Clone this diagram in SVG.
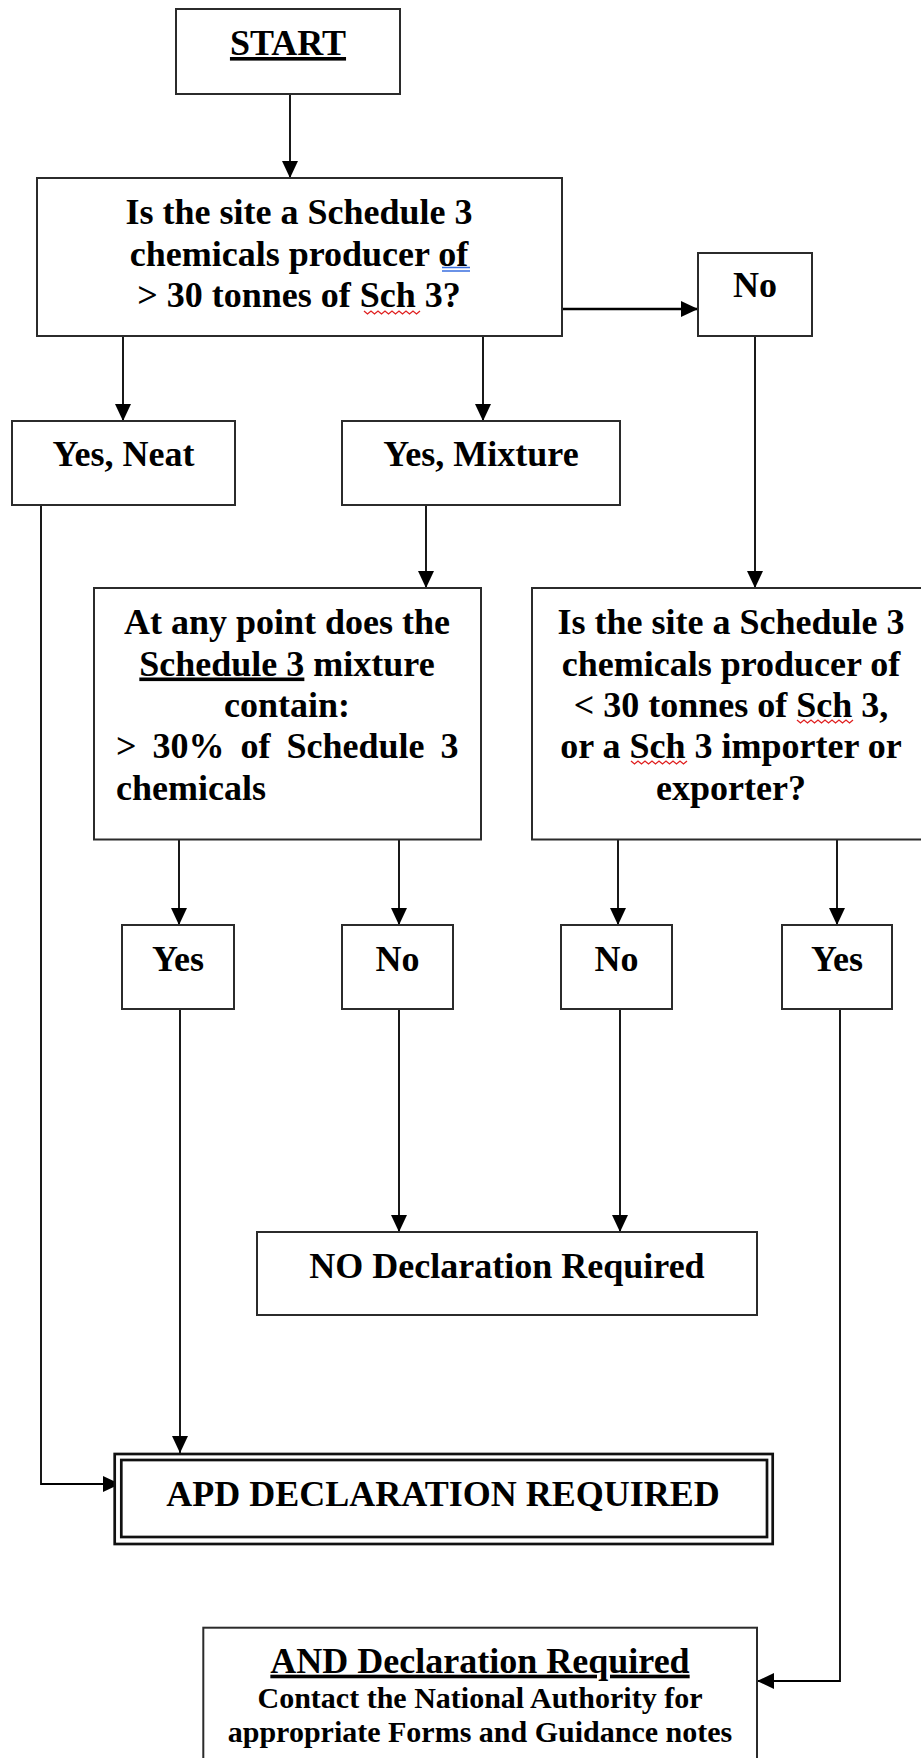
<svg xmlns="http://www.w3.org/2000/svg" width="921" height="1758" viewBox="0 0 921 1758">
<defs>
<marker id="arr" markerUnits="userSpaceOnUse" markerWidth="17" markerHeight="16" refX="17" refY="8" orient="auto">
<path d="M0,0 L17,8 L0,16 z" fill="#000"/>
</marker>
<style>
rect.box{fill:#fff;stroke:#2b2b2b;stroke-width:2}
text{font-family:"Liberation Serif","Times New Roman",serif;font-weight:bold;font-size:36px;fill:#000}
text.c{text-anchor:middle}
text.s{font-size:30px}
.conn line,.conn polyline{fill:none;stroke:#000;stroke-width:1.8}
.spell{fill:none;stroke:#e02020;stroke-width:1.3}
.gram{fill:none;stroke:#3a6fe0;stroke-width:1.3}
</style>
</defs>
<rect width="921" height="1758" fill="#fff"/>

<g class="conn" id="connectors">
<line x1="290" y1="95" x2="290" y2="178" marker-end="url(#arr)"/>
<line x1="562" y1="309" x2="698" y2="309" marker-end="url(#arr)" style="stroke-width:2.4"/>
<line x1="755" y1="336" x2="755" y2="588" marker-end="url(#arr)"/>
<line x1="123" y1="336" x2="123" y2="421" marker-end="url(#arr)"/>
<line x1="483" y1="336" x2="483" y2="421" marker-end="url(#arr)"/>
<line x1="426" y1="505" x2="426" y2="588" marker-end="url(#arr)"/>
<polyline points="41,505 41,1484 120,1484" marker-end="url(#arr)"/>
<line x1="179" y1="840" x2="179" y2="925" marker-end="url(#arr)"/>
<line x1="399" y1="840" x2="399" y2="925" marker-end="url(#arr)"/>
<line x1="618" y1="840" x2="618" y2="925" marker-end="url(#arr)"/>
<line x1="837" y1="840" x2="837" y2="925" marker-end="url(#arr)"/>
<line x1="399" y1="1009" x2="399" y2="1232" marker-end="url(#arr)"/>
<line x1="620" y1="1009" x2="620" y2="1232" marker-end="url(#arr)"/>
<line x1="180" y1="1009" x2="180" y2="1453" marker-end="url(#arr)"/>
<polyline points="840,1009 840,1681 757,1681" marker-end="url(#arr)"/>
</g>

<g id="start">
<rect class="box" x="176" y="9" width="224" height="85"/>
<text class="c" x="288" y="55" text-decoration="underline">START</text>
</g>

<g id="q1">
<rect class="box" x="37" y="178" width="525" height="158"/>
<text class="c" x="299" y="224">Is the site a Schedule 3</text>
<text class="c" x="299" y="265.5">chemicals producer of</text>
<text class="c" x="299" y="306.5">&gt; 30 tonnes of Sch 3?</text>
<path class="gram" d="M442,267.5 H470 M442,271 H470"/>
<path class="spell" d="M364,311 l3.5,3 l3.5,-3 l3.5,3 l3.5,-3 l3.5,3 l3.5,-3 l3.5,3 l3.5,-3 l3.5,3 l3.5,-3 l3.5,3 l3.5,-3 l3.5,3 l3.5,-3 l3.5,3 l3.5,-3"/>
</g>

<g id="no-top">
<rect class="box" x="698" y="253" width="114" height="83"/>
<text class="c" x="755" y="297">No</text>
</g>

<g id="yes-neat">
<rect class="box" x="12" y="421" width="223" height="84"/>
<text class="c" x="123.5" y="466">Yes, Neat</text>
</g>

<g id="yes-mixture">
<rect class="box" x="342" y="421" width="278" height="84"/>
<text class="c" x="481" y="466">Yes, Mixture</text>
</g>

<g id="q-mixture">
<rect class="box" x="94" y="588" width="387" height="251.5"/>
<text class="c" x="287" y="634">At any point does the</text>
<text class="c" x="287" y="675.5"><tspan text-decoration="underline">Schedule 3</tspan> mixture</text>
<text class="c" x="287" y="717">contain:</text>
<text x="116" y="758" style="word-spacing:7px">&gt; 30% of Schedule 3</text>
<text x="116" y="799.5">chemicals</text>
</g>

<g id="q2">
<rect class="box" x="532" y="588" width="400" height="251.5"/>
<text class="c" x="731" y="634">Is the site a Schedule 3</text>
<text class="c" x="731" y="675.5">chemicals producer of</text>
<text class="c" x="731" y="717">&lt; 30 tonnes of Sch 3,</text>
<text class="c" x="731" y="758">or a Sch 3 importer or</text>
<text class="c" x="731" y="799.5">exporter?</text>
<path class="spell" d="M797,720 l3.5,3 l3.5,-3 l3.5,3 l3.5,-3 l3.5,3 l3.5,-3 l3.5,3 l3.5,-3 l3.5,3 l3.5,-3 l3.5,3 l3.5,-3 l3.5,3 l3.5,-3 l3.5,3 l3.5,-3"/>
<path class="spell" d="M631,761 l3.5,3 l3.5,-3 l3.5,3 l3.5,-3 l3.5,3 l3.5,-3 l3.5,3 l3.5,-3 l3.5,3 l3.5,-3 l3.5,3 l3.5,-3 l3.5,3 l3.5,-3 l3.5,3 l3.5,-3"/>
</g>

<g id="yes-1">
<rect class="box" x="122" y="925" width="112" height="84"/>
<text class="c" x="178" y="971">Yes</text>
</g>
<g id="no-1">
<rect class="box" x="342" y="925" width="111" height="84"/>
<text class="c" x="397.5" y="971">No</text>
</g>
<g id="no-2">
<rect class="box" x="561" y="925" width="111" height="84"/>
<text class="c" x="616.5" y="971">No</text>
</g>
<g id="yes-2">
<rect class="box" x="782" y="925" width="110" height="84"/>
<text class="c" x="837" y="971">Yes</text>
</g>

<g id="no-declaration">
<rect class="box" x="257" y="1232" width="500" height="83"/>
<text class="c" x="507" y="1278">NO Declaration Required</text>
</g>

<g id="apd-declaration">
<rect x="114.7" y="1454" width="658" height="90" fill="#fff" stroke="#111" stroke-width="2.7"/>
<rect x="121.3" y="1460" width="645.7" height="77" fill="none" stroke="#111" stroke-width="2.7"/>
<text class="c" x="443" y="1506">APD DECLARATION REQUIRED</text>
</g>

<g id="and-declaration">
<rect class="box" x="203.3" y="1627.7" width="553.7" height="150"/>
<text class="c" x="480" y="1672.7" text-decoration="underline">AND Declaration Required</text>
<text class="c s" x="480" y="1708">Contact the National Authority for</text>
<text class="c s" x="480" y="1742">appropriate Forms and Guidance notes</text>
</g>
</svg>
